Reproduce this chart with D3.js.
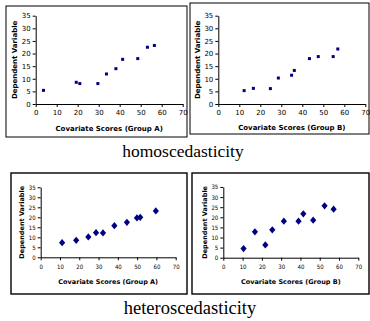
<!DOCTYPE html>
<html>
<head>
<meta charset="utf-8">
<script src="https://cdn.jsdelivr.net/npm/d3@7"></script>
<style>
  body { margin: 0; background: #fff; }
  svg { display: block; }
</style>
</head>
<body>
<svg id="chart" width="370" height="321"></svg>
<script>
// values
const homoAx = [3.7, 19.3, 21.0, 29.6, 33.7, 38.2, 41.4, 48.6, 53.2, 56.5];
const homoAy = [5.4, 8.6, 8.1, 8.1, 11.9, 14.0, 17.7, 18.0, 22.5, 23.2];
const homoBx = [12.3, 16.7, 24.8, 28.6, 34.9, 36.2, 43.4, 47.6, 54.7, 56.9];
const homoBy = [5.3, 6.2, 6.1, 10.3, 11.4, 13.3, 18.0, 18.8, 18.8, 21.8];
const heteroAx = [11.1, 18.4, 24.7, 28.7, 32.3, 38.2, 44.7, 49.9, 51.6, 59.7];
const heteroAy = [7.3, 8.5, 10.2, 12.3, 12.2, 15.8, 17.5, 19.7, 20.0, 23.2];
const heteroBx = [10.5, 16.4, 21.8, 25.4, 31.4, 39.0, 41.5, 46.6, 52.5, 57.2];
const heteroBy = [4.5, 12.8, 6.3, 13.8, 18.1, 18.1, 21.7, 18.6, 25.7, 24.0];
const xTicks = [0, 10, 20, 30, 40, 50, 60, 70];
const yTicks = [0, 5, 10, 15, 20, 25, 30, 35];
const yLabel = "Dependent Variable";
const xLabels = ["Covariate Scores (Group A)", "Covariate Scores (Group B)"];
const captions = ["homoscedasticity", "heteroscedasticity"];

const svg = d3.select("#chart");
const navy = "#000080";

function panel(cfg) {
  const g = svg.append("g");

  g.append("rect")
    .attr("x", cfg.frame[0]).attr("y", cfg.frame[1])
    .attr("width", cfg.frame[2] - cfg.frame[0])
    .attr("height", cfg.frame[3] - cfg.frame[1])
    .attr("fill", "#fff").attr("stroke", "#000").attr("stroke-width", cfg.bw);

  const x = d3.scaleLinear().domain([0, 70]).range([cfg.x0, cfg.x1]);
  const y = d3.scaleLinear().domain([0, 35]).range([cfg.y0, cfg.y1]);

  const xa = g.append("g")
    .attr("transform", `translate(0,${cfg.y0})`)
    .call(d3.axisBottom(x).tickValues(xTicks).tickSize(3).tickSizeOuter(0).tickPadding(cfg.pad));
  const ya = g.append("g")
    .attr("transform", `translate(${cfg.x0},0)`)
    .call(d3.axisLeft(y).tickValues(yTicks).tickSize(3).tickSizeOuter(0).tickPadding(2));
  [xa, ya].forEach(a => {
    a.selectAll("path,line").attr("stroke", "#000").attr("stroke-width", 1);
    a.selectAll("text").attr("fill", "#000")
      .style("font-family", cfg.tickFont).style("font-size", cfg.tickSize + "px");
  });

  g.append("text")
    .attr("x", (cfg.x0 + cfg.x1) / 2).attr("y", cfg.xTitleY)
    .attr("text-anchor", "middle").attr("dominant-baseline", "middle")
    .style("font-family", "DejaVu Sans").style("font-weight", "bold")
    .style("font-size", cfg.titleSize + "px")
    .text(cfg.xLabel);

  g.append("text")
    .attr("transform", `translate(${cfg.yTitleX},${(cfg.y0 + cfg.y1) / 2}) rotate(-90)`)
    .attr("text-anchor", "middle").attr("dominant-baseline", "middle")
    .style("font-family", "DejaVu Sans").style("font-weight", "bold")
    .style("font-size", cfg.titleSize + "px")
    .text(yLabel);

  const pts = cfg.xs.map((v, i) => [v, cfg.ys[i]]);
  if (cfg.shape === "square") {
    g.selectAll("rect.pt").data(pts).join("rect")
      .attr("class", "pt")
      .attr("x", d => x(d[0]) - 1.5).attr("y", d => y(d[1]) - 1.5)
      .attr("width", 3).attr("height", 3).attr("fill", navy);
  } else {
    // Excel-style diamond marker, a bit wider than d3's symbolDiamond
    g.selectAll("path.pt").data(pts).join("path")
      .attr("class", "pt")
      .attr("transform", d => `translate(${x(d[0])},${y(d[1])})`)
      .attr("d", "M0,-3.6L3.1,0L0,3.6L-3.1,0Z").attr("fill", navy);
  }
}

// homoscedasticity
panel({ frame: [6, 6, 187, 137], bw: 1, x0: 35.7, x1: 182.7, y0: 104, y1: 15.7,
  xs: homoAx, ys: homoAy, shape: "square", xLabel: xLabels[0],
  xTitleY: 129, yTitleX: 15, tickFont: "DejaVu Sans", tickSize: 7, titleSize: 7, pad: 3 });
panel({ frame: [190, 3, 369, 134], bw: 1, x0: 218.3, x1: 365.3, y0: 104, y1: 15.7,
  xs: homoBx, ys: homoBy, shape: "square", xLabel: xLabels[1],
  xTitleY: 128.3, yTitleX: 198.3, tickFont: "DejaVu Sans", tickSize: 7, titleSize: 7, pad: 3 });

// heteroscedasticity
panel({ frame: [11, 173, 187, 294], bw: 1.4, x0: 40.7, x1: 175.7, y0: 257.3, y1: 187.3,
  xs: heteroAx, ys: heteroAy, shape: "diamond", xLabel: xLabels[0],
  xTitleY: 282, yTitleX: 22.7, tickFont: "DejaVu Sans Condensed", tickSize: 6, titleSize: 6.5, pad: 4 });
panel({ frame: [192, 173, 369, 294], bw: 1.4, x0: 223.3, x1: 358.3, y0: 257.7, y1: 187,
  xs: heteroBx, ys: heteroBy, shape: "diamond", xLabel: xLabels[1],
  xTitleY: 282, yTitleX: 205.7, tickFont: "DejaVu Sans Condensed", tickSize: 6, titleSize: 6.5, pad: 4 });

svg.selectAll("text.caption").data(captions).join("text")
  .attr("class", "caption")
  .attr("x", (d, i) => i === 0 ? 183 : 190)
  .attr("y", (d, i) => i === 0 ? 153 : 310)
  .attr("text-anchor", "middle").attr("dominant-baseline", "middle")
  .style("font-family", "Liberation Serif")
  .style("font-size", (d, i) => i === 0 ? "17.5px" : "18.5px")
  .text(d => d);
</script>
</body>
</html>
